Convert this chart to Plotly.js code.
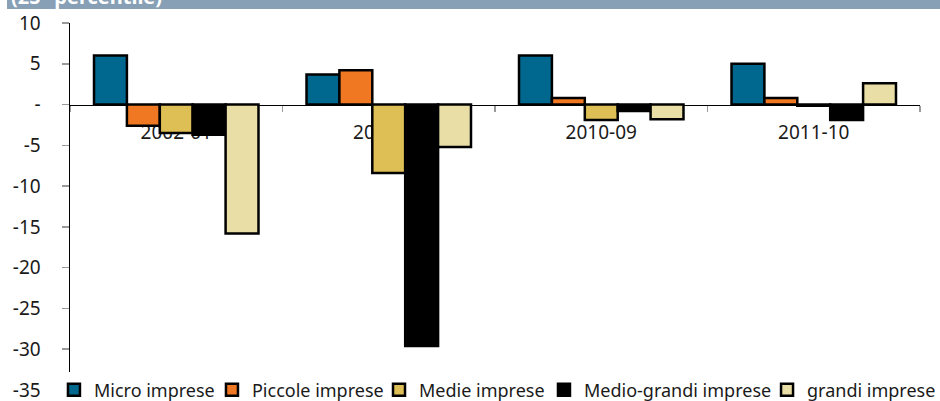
<!DOCTYPE html>
<html>
<head>
<meta charset="utf-8">
<script src="https://cdn.plot.ly/plotly-3.0.1.min.js"></script>
<style>html,body{margin:0;padding:0;background:#fff;}#chart{width:940px;height:401px;}</style>
</head>
<body>
<div id="chart"></div>
<script>
// ---- data ----
const categories = ['2002-01', '2003-02', '2010-09', '2011-10'];
const seriesNames = ['Micro imprese', 'Piccole imprese', 'Medie imprese', 'Medio-grandi imprese', 'grandi imprese'];
const microImprese = [6.0, 3.7, 6.0, 5.0];
const piccoleImprese = [-2.6, 4.2, 0.8, 0.8];
const medieImprese = [-3.5, -8.4, -1.9, -0.15];
const medioGrandiImprese = [-3.7, -29.6, -0.8, -1.9];
const grandiImprese = [-15.8, -5.2, -1.8, 2.6];
const yTickVals = [10, 5, 0, -5, -10, -15, -20, -25, -30, -35];
const yTickText = ['10', '5', '-', '-5', '-10', '-15', '-20', '-25', '-30', '-35'];
const chartTitle = '(25° percentile)';

// ---- styling ----
const colors = ['#00688F', '#F07822', '#DDBF55', '#000000', '#E9DFA6'];
const allSeries = [microImprese, piccoleImprese, medieImprese, medioGrandiImprese, grandiImprese];
const legendIds = ['legend', 'legend2', 'legend3', 'legend4', 'legend5'];
const legendX = [0.0574, 0.2255, 0.4032, 0.5787, 0.8160];
const yRange = [-35, 10];
const fontFam = '"Noto Sans", "Open Sans", sans-serif';

const traces = allSeries.map((vals, i) => ({
  type: 'bar',
  name: seriesNames[i],
  x: categories,
  y: vals,
  marker: {color: colors[i], line: {color: '#000', width: 2.5}},
  legend: legendIds[i],
  showlegend: true,
  hoverinfo: 'x+y+name'
}));

const layout = {
  width: 940, height: 401,
  margin: {l: 70, r: 20, t: 23, b: 11, autoexpand: false},
  showlegend: true,
  paper_bgcolor: '#fff', plot_bgcolor: '#fff',
  font: {family: fontFam, size: 19, color: '#1a1a1a'},
  barmode: 'group', bargap: 0.226, bargroupgap: 0,
  xaxis: {
    type: 'category',
    anchor: 'free',
    position: (0 - yRange[0]) / (yRange[1] - yRange[0]),
    showline: true, linecolor: '#000', linewidth: 1.5,
    ticks: 'outside', tickson: 'boundaries', ticklen: 6, tickcolor: '#9a9a9a', tickwidth: 1.5,
    ticklabelstandoff: 10,
    tickfont: {size: 19, color: '#1a1a1a'},
    showgrid: false, zeroline: false, automargin: false,
    layer: 'below traces',
    fixedrange: true
  },
  yaxis: {
    range: yRange,
    tickmode: 'array', tickvals: yTickVals, ticktext: yTickText,
    showline: true, linecolor: '#000', linewidth: 1.5,
    ticks: 'outside', ticklen: 7, tickcolor: '#9a9a9a', tickwidth: 1.5,
    ticklabelstandoff: 17,
    ticklabeloverflow: 'allow',
    tickfont: {size: 19, color: '#1a1a1a'},
    showgrid: false, zeroline: false, automargin: false,
    fixedrange: true
  },
  shapes: [{
    type: 'rect', xref: 'paper', yref: 'paper',
    x0: -0.0741, x1: 1.03, y0: 1.0381, y1: 1.08,
    fillcolor: '#87A0B5', line: {width: 0}, layer: 'above'
  }],
  annotations: [{
    text: '<b>' + chartTitle + '</b>',
    xref: 'paper', yref: 'paper', x: -0.0718, y: 1.029,
    xanchor: 'left', yanchor: 'bottom', showarrow: false,
    font: {family: fontFam, size: 20, color: '#fff'}
  }]
};

legendIds.forEach((id, i) => {
  layout[id] = {
    orientation: 'h',
    xref: 'container', yref: 'container',
    x: legendX[i], xanchor: 'left',
    y: 0.0274, yanchor: 'middle',
    bgcolor: i === 0 ? '#fff' : 'rgba(0,0,0,0)',
    borderwidth: 0,
    itemwidth: 30,
    font: {family: fontFam, size: 18, color: '#1a1a1a'}
  };
});

Plotly.newPlot('chart', traces, layout, {displayModeBar: false, staticPlot: true});
</script>
</body>
</html>
